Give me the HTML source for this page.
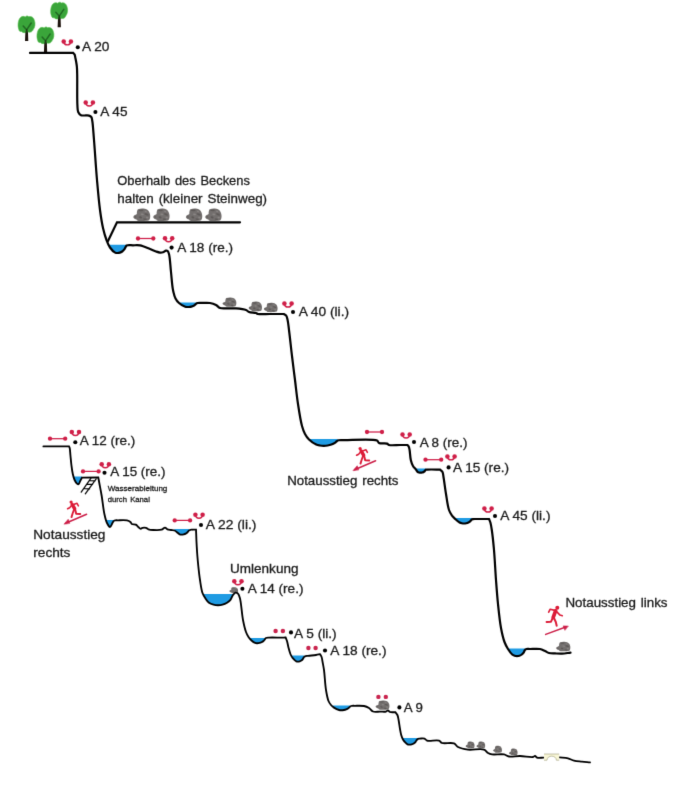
<!DOCTYPE html>
<html><head><meta charset="utf-8"><title>Topo</title>
<style>
html,body{margin:0;padding:0;background:#fff;}
body{width:674px;height:800px;overflow:hidden;}
svg{display:block;}
text{font-family:"Liberation Sans",sans-serif;fill:#1b1b1b;stroke:#1b1b1b;stroke-width:0.3px;}
</style></head><body>
<svg width="674" height="800" viewBox="0 0 674 800">
<defs>
<filter id="sb" filterUnits="userSpaceOnUse" x="0" y="0" width="674" height="800" color-interpolation-filters="sRGB"><feConvolveMatrix order="3" kernelMatrix="0 1 0 1 7 1 0 1 0" divisor="11" edgeMode="duplicate" preserveAlpha="false"/></filter>
<g id="rock"><path d="M4.8,0.9 C6.5,0.1 8.5,0 10.2,0.1 C12.6,0.3 14.6,1.2 15.6,2.6 C16.9,4.4 17.4,6.6 17.2,8.6 C17.1,10.2 16.8,11.4 16,12.1 C14,13 8,13 5.5,12.8 C4.4,12.6 3.6,12 3.4,11.3 C2,11 0.4,10 0.1,8.9 C0.2,7.8 1,7 1.9,6.7 C2.6,6.3 3.2,6 3.7,5.6 C3.6,3.6 4,1.8 4.8,0.9 Z" fill="#736f6e"/><path d="M5,2.2 C6.6,1 9.2,0.8 10.6,1.6 C9.6,3 7.2,3.4 5,2.2 Z M11.2,5.4 C12.8,4.4 15,5 15.8,7 C14.2,7.6 12.2,7 11.2,5.4 Z M5.6,8.6 C6.8,7.6 8.6,8 9,9.8 C7.8,10.6 6.2,10.2 5.6,8.6 Z M1.2,8.4 C2,7.8 3,8 3.2,9 C2.4,9.6 1.4,9.4 1.2,8.4 Z M10,10.6 C11.4,10 13.4,10.4 13.8,11.8 C12.4,12.4 10.6,12 10,10.6 Z" fill="#555150" opacity="0.75"/><path d="M7.4,5.6 C8.6,4.8 10.4,5 10.8,6.4 C9.6,7.4 8,7 7.4,5.6 Z M12.8,8.8 C13.8,8.2 15.4,8.6 15.6,9.8 C14.6,10.6 13.2,10.2 12.8,8.8 Z M11.4,2.6 C12.4,2.2 13.8,2.8 14,3.8 C13,4.2 11.8,3.8 11.4,2.6 Z" fill="#8f8b88" opacity="0.8"/></g>
</defs>
<rect width="674" height="800" fill="#ffffff"/>
<g filter="url(#sb)">
<path d="M109.00,244.80 L109.29,246.39 L109.64,246.95 L110.00,247.50 L110.37,248.01 L110.76,248.52 L111.18,249.04 L111.62,249.55 L112.07,250.05 L112.53,250.53 L112.99,250.98 L113.44,251.40 L113.89,251.78 L114.32,252.12 L114.73,252.40 L115.12,252.62 L115.33,252.72 L115.54,252.80 L115.74,252.87 L115.94,252.91 L116.14,252.95 L116.34,252.98 L116.53,252.99 L116.72,253.00 L116.91,253.00 L117.11,253.00 L117.30,253.00 L117.50,253.00 L117.70,253.00 L117.90,252.99 L118.10,252.98 L118.30,252.96 L118.50,252.93 L118.70,252.90 L118.90,252.87 L119.10,252.83 L119.30,252.78 L119.49,252.73 L119.69,252.68 L119.88,252.62 L120.08,252.55 L120.27,252.48 L120.47,252.41 L120.67,252.32 L120.86,252.24 L121.05,252.14 L121.25,252.05 L121.43,251.94 L121.62,251.84 L121.81,251.72 L121.99,251.60 L122.17,251.48 L122.36,251.34 L122.55,251.19 L122.75,251.03 L122.94,250.87 L123.13,250.70 L123.31,250.52 L123.49,250.34 L123.67,250.16 L123.84,249.97 L124.00,249.79 L124.15,249.60 L124.30,249.42 L124.42,249.25 L124.54,249.08 L124.65,248.91 L124.75,248.73 L124.85,248.55 L124.94,248.37 L125.03,248.19 L125.12,248.02 L125.21,247.84 L125.30,247.66 L125.39,247.49 L125.49,247.32 L125.58,247.16 L125.65,246.99 L125.72,246.83 L125.79,246.66 L125.86,246.49 L125.93,246.32 L126.00,246.16 L126.00,244.80 Z" fill="#1f9be3"/>
<path d="M179.00,302.40 L179.00,303.00 L179.44,303.38 L179.93,303.76 L180.45,304.15 L181.00,304.53 L181.57,304.90 L182.14,305.26 L182.71,305.60 L183.27,305.91 L183.82,306.19 L184.34,306.44 L184.82,306.64 L185.26,306.80 L185.49,306.87 L185.72,306.92 L185.93,306.96 L186.14,306.99 L186.34,307.01 L186.53,307.02 L186.73,307.02 L186.92,307.02 L187.11,307.01 L187.30,307.01 L187.50,307.00 L187.70,307.00 L187.90,307.00 L188.11,306.99 L188.31,306.99 L188.52,306.98 L188.72,306.97 L188.93,306.95 L189.13,306.93 L189.33,306.91 L189.54,306.89 L189.74,306.86 L189.94,306.83 L190.14,306.80 L190.34,306.76 L190.54,306.73 L190.74,306.69 L190.93,306.64 L191.13,306.60 L191.33,306.55 L191.52,306.49 L191.72,306.44 L191.91,306.38 L192.10,306.32 L192.29,306.25 L192.48,306.18 L192.67,306.11 L192.86,306.03 L193.06,305.95 L193.25,305.86 L193.44,305.77 L193.63,305.68 L193.81,305.58 L194.00,305.49 L194.17,305.39 L194.34,305.29 L194.51,305.18 L194.66,305.08 L194.78,304.99 L194.89,304.90 L194.99,304.81 L195.09,304.71 L195.19,304.61 L195.28,304.51 L195.38,304.41 L195.47,304.32 L195.57,304.22 L195.67,304.13 L195.77,304.04 L195.88,303.95 L196.00,303.86 L196.12,303.77 L196.23,303.68 L196.35,303.59 L196.40,302.40 Z" fill="#1f9be3"/>
<path d="M310.00,439.00 L310.06,440.47 L310.65,440.96 L311.26,441.45 L311.90,441.93 L312.55,442.40 L313.20,442.84 L313.84,443.26 L314.47,443.65 L315.08,444.00 L315.67,444.32 L316.21,444.58 L316.55,444.73 L316.88,444.85 L317.20,444.96 L317.51,445.05 L317.82,445.13 L318.12,445.20 L318.42,445.26 L318.72,445.31 L319.02,445.36 L319.32,445.40 L319.63,445.45 L319.94,445.50 L320.26,445.55 L320.58,445.59 L320.90,445.63 L321.22,445.67 L321.54,445.70 L321.86,445.73 L322.19,445.75 L322.51,445.77 L322.83,445.78 L323.16,445.79 L323.48,445.80 L323.80,445.80 L324.12,445.80 L324.44,445.79 L324.77,445.78 L325.09,445.77 L325.41,445.75 L325.74,445.73 L326.06,445.70 L326.38,445.67 L326.70,445.63 L327.02,445.59 L327.34,445.55 L327.66,445.50 L327.98,445.45 L328.29,445.39 L328.61,445.33 L328.92,445.27 L329.24,445.20 L329.55,445.13 L329.86,445.05 L330.17,444.96 L330.48,444.88 L330.79,444.78 L331.09,444.68 L331.39,444.58 L331.69,444.47 L331.99,444.35 L332.30,444.23 L332.60,444.10 L332.91,443.96 L333.21,443.82 L333.50,443.68 L333.79,443.53 L334.07,443.38 L334.34,443.23 L334.60,443.08 L334.84,442.92 L335.03,442.79 L335.21,442.65 L335.38,442.50 L335.54,442.35 L335.70,442.20 L335.85,442.05 L336.00,441.90 L336.15,441.75 L336.30,441.61 L336.45,441.48 L336.61,441.35 L336.77,441.23 L336.91,441.13 L337.05,441.04 L337.19,440.94 L337.32,440.86 L337.46,440.77 L337.60,440.69 L337.60,439.00 Z" fill="#1f9be3"/>
<path d="M416.00,468.40 L416.00,469.60 L416.16,469.81 L416.30,470.03 L416.44,470.25 L416.57,470.47 L416.70,470.69 L416.83,470.90 L416.96,471.10 L417.08,471.29 L417.21,471.47 L417.34,471.64 L417.48,471.79 L417.63,471.92 L417.74,472.00 L417.86,472.08 L417.98,472.15 L418.10,472.20 L418.22,472.26 L418.34,472.30 L418.47,472.34 L418.59,472.38 L418.71,472.41 L418.84,472.45 L418.96,472.48 L419.09,472.51 L419.21,472.54 L419.34,472.57 L419.46,472.59 L419.59,472.62 L419.71,472.64 L419.84,472.65 L419.97,472.67 L420.09,472.68 L420.22,472.69 L420.35,472.69 L420.47,472.70 L420.60,472.70 L420.73,472.70 L420.85,472.69 L420.98,472.69 L421.11,472.68 L421.23,472.67 L421.36,472.65 L421.49,472.64 L421.61,472.62 L421.74,472.59 L421.86,472.57 L421.99,472.54 L422.11,472.51 L422.23,472.48 L422.36,472.44 L422.48,472.40 L422.61,472.36 L422.73,472.31 L422.85,472.27 L422.98,472.22 L423.10,472.16 L423.22,472.11 L423.34,472.05 L423.45,471.98 L423.57,471.92 L423.69,471.85 L423.81,471.77 L423.93,471.69 L424.05,471.61 L424.17,471.52 L424.29,471.43 L424.40,471.34 L424.51,471.25 L424.62,471.16 L424.73,471.06 L424.83,470.97 L424.92,470.87 L425.00,470.78 L425.06,470.69 L425.13,470.59 L425.18,470.49 L425.24,470.39 L425.29,470.28 L425.34,470.18 L425.40,470.09 L425.46,470.00 L425.53,469.92 L425.60,469.85 L425.68,469.79 L425.77,469.74 L425.86,469.71 L425.95,469.68 L426.00,468.40 Z" fill="#1f9be3"/>
<path d="M456.00,518.00 L456.16,519.80 L456.51,520.11 L456.86,520.42 L457.22,520.72 L457.58,521.02 L457.94,521.31 L458.29,521.59 L458.63,521.85 L458.97,522.09 L459.29,522.30 L459.60,522.48 L459.79,522.58 L459.98,522.68 L460.17,522.76 L460.35,522.84 L460.53,522.91 L460.70,522.97 L460.88,523.02 L461.05,523.07 L461.22,523.12 L461.40,523.16 L461.58,523.21 L461.76,523.25 L461.94,523.29 L462.13,523.33 L462.31,523.36 L462.50,523.39 L462.69,523.42 L462.87,523.44 L463.06,523.46 L463.25,523.47 L463.44,523.48 L463.63,523.49 L463.81,523.50 L464.00,523.50 L464.19,523.50 L464.37,523.49 L464.56,523.48 L464.75,523.47 L464.94,523.46 L465.13,523.44 L465.31,523.42 L465.50,523.39 L465.69,523.36 L465.87,523.33 L466.06,523.29 L466.24,523.25 L466.42,523.21 L466.61,523.16 L466.79,523.11 L466.98,523.05 L467.16,522.99 L467.34,522.93 L467.52,522.87 L467.70,522.80 L467.88,522.72 L468.05,522.65 L468.23,522.57 L468.40,522.48 L468.58,522.39 L468.76,522.29 L468.93,522.18 L469.11,522.07 L469.29,521.96 L469.46,521.84 L469.63,521.72 L469.80,521.60 L469.96,521.48 L470.11,521.35 L470.26,521.23 L470.40,521.10 L470.51,520.99 L470.61,520.87 L470.71,520.74 L470.80,520.62 L470.88,520.49 L470.97,520.36 L471.05,520.23 L471.13,520.11 L471.22,519.99 L471.31,519.88 L471.41,519.78 L471.52,519.69 L471.63,519.61 L471.73,519.55 L471.84,519.48 L471.95,519.43 L472.00,518.00 Z" fill="#1f9be3"/>
<path d="M509.00,648.40 L509.00,650.55 L509.35,651.07 L509.71,651.58 L510.07,652.08 L510.44,652.56 L510.80,653.02 L511.16,653.45 L511.52,653.84 L511.86,654.19 L512.20,654.50 L512.41,654.67 L512.61,654.82 L512.81,654.96 L513.01,655.09 L513.21,655.21 L513.40,655.31 L513.60,655.41 L513.80,655.49 L513.99,655.58 L514.19,655.65 L514.40,655.73 L514.60,655.80 L514.80,655.86 L514.99,655.92 L515.19,655.98 L515.39,656.02 L515.59,656.06 L515.79,656.10 L515.99,656.13 L516.20,656.16 L516.40,656.18 L516.60,656.19 L516.80,656.20 L517.00,656.20 L517.20,656.20 L517.40,656.19 L517.60,656.18 L517.80,656.16 L518.01,656.13 L518.21,656.10 L518.41,656.06 L518.61,656.02 L518.81,655.98 L519.01,655.92 L519.20,655.86 L519.40,655.80 L519.61,655.73 L519.81,655.64 L520.02,655.56 L520.23,655.46 L520.43,655.36 L520.64,655.25 L520.84,655.14 L521.04,655.02 L521.24,654.90 L521.43,654.77 L521.62,654.64 L521.80,654.50 L521.99,654.35 L522.17,654.19 L522.36,654.02 L522.54,653.84 L522.72,653.66 L522.89,653.47 L523.06,653.28 L523.22,653.09 L523.38,652.90 L523.53,652.70 L523.67,652.51 L523.80,652.32 L523.90,652.15 L523.99,651.97 L524.07,651.79 L524.14,651.61 L524.21,651.42 L524.27,651.24 L524.34,651.06 L524.40,650.88 L524.48,650.71 L524.56,650.54 L524.65,650.39 L524.76,650.24 L524.87,650.11 L524.99,649.98 L525.00,648.40 Z" fill="#1f9be3"/>
<path d="M73.50,476.60 L73.59,477.20 L73.74,477.70 L73.89,478.18 L74.05,478.66 L74.22,479.12 L74.41,479.57 L74.60,480.00 L74.77,480.35 L74.95,480.71 L75.14,481.06 L75.34,481.41 L75.54,481.75 L75.74,482.08 L75.95,482.39 L76.16,482.69 L76.38,482.96 L76.59,483.20 L76.80,483.42 L77.00,483.60 L77.12,483.70 L77.25,483.80 L77.38,483.89 L77.51,483.97 L77.64,484.05 L77.76,484.11 L77.89,484.17 L78.02,484.21 L78.14,484.23 L78.26,484.24 L78.38,484.23 L78.50,484.20 L78.68,484.09 L78.85,483.92 L79.02,483.68 L79.18,483.40 L79.34,483.08 L79.50,482.73 L79.65,482.36 L79.80,481.98 L79.95,481.61 L80.10,481.25 L80.25,480.91 L80.40,480.60 L80.54,480.34 L80.67,480.08 L80.81,479.83 L80.94,479.58 L81.08,479.33 L81.21,479.08 L81.34,478.84 L81.47,478.59 L81.60,478.34 L81.73,478.10 L81.87,477.85 L82.00,477.60 L82.00,477.60 L82.00,476.60 Z" fill="#1f9be3"/>
<path d="M106.50,520.00 L106.72,522.40 L107.00,523.00 L107.22,523.44 L107.45,523.89 L107.69,524.35 L107.94,524.80 L108.19,525.24 L108.46,525.65 L108.72,526.03 L108.98,526.36 L109.24,526.63 L109.50,526.84 L109.75,526.96 L110.00,527.00 L110.26,526.91 L110.52,526.69 L110.78,526.36 L111.04,525.93 L111.30,525.44 L111.56,524.91 L111.81,524.35 L112.06,523.79 L112.30,523.26 L112.54,522.76 L112.77,522.34 L113.00,522.00 L113.13,521.83 L113.25,521.67 L113.37,521.52 L113.48,521.37 L113.59,521.23 L113.70,521.11 L113.81,520.98 L113.93,520.87 L114.00,520.00 Z" fill="#1f9be3"/>
<path d="M174.40,529.00 L174.50,530.50 L174.92,530.71 L175.35,530.98 L175.80,531.31 L176.26,531.67 L176.71,532.07 L177.17,532.47 L177.62,532.87 L178.07,533.25 L178.50,533.61 L178.91,533.92 L179.30,534.17 L179.66,534.35 L179.85,534.42 L180.04,534.48 L180.21,534.52 L180.39,534.55 L180.55,534.58 L180.72,534.59 L180.88,534.60 L181.04,534.61 L181.20,534.61 L181.37,534.60 L181.53,534.60 L181.70,534.60 L181.87,534.60 L182.04,534.59 L182.21,534.58 L182.38,534.57 L182.55,534.56 L182.73,534.54 L182.90,534.51 L183.07,534.49 L183.24,534.46 L183.41,534.43 L183.57,534.39 L183.74,534.35 L183.91,534.31 L184.08,534.26 L184.24,534.21 L184.41,534.16 L184.58,534.10 L184.74,534.04 L184.91,533.98 L185.07,533.91 L185.23,533.84 L185.39,533.76 L185.55,533.68 L185.71,533.60 L185.87,533.51 L186.04,533.41 L186.20,533.31 L186.36,533.20 L186.52,533.09 L186.68,532.98 L186.84,532.86 L186.99,532.74 L187.14,532.62 L187.28,532.50 L187.41,532.37 L187.54,532.25 L187.64,532.14 L187.73,532.03 L187.82,531.91 L187.90,531.79 L187.97,531.66 L188.05,531.54 L188.12,531.42 L188.19,531.30 L188.27,531.18 L188.36,531.07 L188.46,530.96 L188.56,530.86 L188.69,530.75 L188.82,530.64 L188.96,530.54 L189.00,529.00 Z" fill="#1f9be3"/>
<path d="M203.00,594.00 L203.16,594.60 L203.39,595.08 L203.64,595.54 L203.89,595.99 L204.14,596.42 L204.41,596.85 L204.67,597.26 L204.94,597.67 L205.22,598.09 L205.50,598.50 L205.76,598.89 L206.03,599.28 L206.30,599.68 L206.57,600.06 L206.84,600.45 L207.13,600.82 L207.41,601.18 L207.71,601.53 L208.02,601.86 L208.33,602.18 L208.66,602.47 L209.00,602.74 L209.33,602.97 L209.68,603.19 L210.04,603.38 L210.41,603.57 L210.78,603.73 L211.17,603.89 L211.55,604.03 L211.94,604.17 L212.34,604.29 L212.73,604.41 L213.12,604.52 L213.50,604.62 L213.87,604.71 L214.24,604.80 L214.61,604.88 L214.99,604.95 L215.36,605.01 L215.74,605.06 L216.12,605.10 L216.49,605.14 L216.87,605.16 L217.25,605.18 L217.62,605.20 L218.00,605.20 L218.38,605.20 L218.75,605.18 L219.13,605.16 L219.51,605.14 L219.88,605.10 L220.26,605.06 L220.64,605.01 L221.01,604.95 L221.39,604.88 L221.76,604.80 L222.13,604.71 L222.50,604.62 L222.88,604.51 L223.27,604.39 L223.66,604.26 L224.06,604.12 L224.45,603.97 L224.83,603.81 L225.22,603.65 L225.59,603.48 L225.96,603.30 L226.32,603.12 L226.67,602.93 L227.00,602.74 L227.28,602.57 L227.56,602.41 L227.83,602.24 L228.09,602.07 L228.34,601.89 L228.59,601.71 L228.84,601.53 L229.08,601.33 L229.31,601.12 L229.54,600.89 L229.77,600.66 L230.00,600.40 L230.28,600.04 L230.55,599.63 L230.81,599.18 L231.05,598.71 L231.30,598.21 L231.53,597.71 L231.77,597.21 L232.01,596.71 L232.24,596.24 L232.49,595.79 L232.74,595.37 L233.00,595.00 L233.00,594.00 Z" fill="#1f9be3"/>
<path d="M249.60,638.00 L249.66,638.58 L249.91,638.87 L250.16,639.16 L250.42,639.44 L250.68,639.72 L250.95,639.99 L251.22,640.25 L251.50,640.50 L251.78,640.75 L252.07,641.00 L252.38,641.24 L252.69,641.49 L253.00,641.72 L253.32,641.95 L253.63,642.17 L253.95,642.37 L254.26,642.55 L254.56,642.71 L254.86,642.86 L255.14,642.97 L255.33,643.03 L255.52,643.09 L255.70,643.13 L255.88,643.16 L256.06,643.18 L256.24,643.19 L256.42,643.20 L256.59,643.20 L256.77,643.20 L256.94,643.20 L257.12,643.20 L257.30,643.20 L257.48,643.20 L257.66,643.19 L257.84,643.19 L258.02,643.17 L258.20,643.16 L258.39,643.14 L258.57,643.12 L258.75,643.10 L258.93,643.07 L259.11,643.04 L259.28,643.01 L259.46,642.97 L259.64,642.93 L259.81,642.89 L259.99,642.84 L260.17,642.79 L260.34,642.74 L260.52,642.68 L260.69,642.62 L260.86,642.56 L261.04,642.49 L261.21,642.42 L261.37,642.35 L261.54,642.27 L261.71,642.19 L261.88,642.10 L262.05,642.00 L262.22,641.90 L262.39,641.80 L262.56,641.70 L262.72,641.59 L262.88,641.48 L263.03,641.36 L263.18,641.25 L263.33,641.14 L263.46,641.02 L263.57,640.92 L263.67,640.82 L263.76,640.72 L263.85,640.62 L263.94,640.51 L264.02,640.40 L264.10,640.30 L264.19,640.19 L264.27,640.08 L264.36,639.97 L264.45,639.85 L264.54,639.74 L264.65,639.60 L264.76,639.45 L264.86,639.29 L264.97,639.13 L265.00,638.00 Z" fill="#1f9be3"/>
<path d="M292.00,655.60 L292.14,657.28 L292.32,657.55 L292.50,657.80 L292.62,657.97 L292.74,658.12 L292.86,658.26 L292.98,658.40 L293.10,658.53 L293.22,658.65 L293.34,658.78 L293.47,658.90 L293.59,659.02 L293.72,659.14 L293.86,659.27 L294.00,659.40 L294.17,659.56 L294.35,659.74 L294.54,659.92 L294.73,660.11 L294.93,660.29 L295.13,660.47 L295.33,660.65 L295.53,660.82 L295.73,660.97 L295.93,661.11 L296.13,661.23 L296.32,661.33 L296.46,661.39 L296.60,661.44 L296.74,661.48 L296.88,661.51 L297.02,661.54 L297.16,661.56 L297.30,661.58 L297.44,661.59 L297.58,661.59 L297.72,661.60 L297.86,661.60 L298.00,661.60 L298.14,661.60 L298.28,661.59 L298.42,661.58 L298.56,661.57 L298.71,661.55 L298.85,661.53 L298.99,661.51 L299.13,661.48 L299.27,661.45 L299.41,661.41 L299.54,661.37 L299.68,661.33 L299.82,661.28 L299.96,661.23 L300.10,661.18 L300.24,661.12 L300.37,661.06 L300.51,660.99 L300.65,660.92 L300.78,660.85 L300.91,660.77 L301.04,660.69 L301.17,660.61 L301.30,660.52 L301.44,660.42 L301.57,660.32 L301.71,660.20 L301.84,660.09 L301.97,659.97 L302.10,659.85 L302.23,659.72 L302.35,659.59 L302.47,659.46 L302.59,659.33 L302.70,659.20 L302.80,659.07 L302.89,658.95 L302.96,658.83 L303.03,658.70 L303.10,658.58 L303.16,658.45 L303.22,658.32 L303.28,658.19 L303.34,658.06 L303.41,657.94 L303.48,657.82 L303.56,657.70 L303.64,657.58 L303.73,657.46 L303.83,657.34 L303.92,657.22 L304.00,655.60 Z" fill="#1f9be3"/>
<path d="M333.00,705.60 L333.15,707.01 L333.42,707.21 L333.71,707.41 L334.00,707.60 L334.37,707.83 L334.78,708.07 L335.20,708.31 L335.65,708.55 L336.10,708.78 L336.57,709.01 L337.03,709.22 L337.48,709.42 L337.92,709.60 L338.35,709.76 L338.75,709.89 L339.12,710.00 L339.34,710.06 L339.56,710.10 L339.77,710.13 L339.97,710.16 L340.16,710.18 L340.36,710.19 L340.55,710.20 L340.73,710.20 L340.92,710.20 L341.11,710.20 L341.30,710.20 L341.50,710.20 L341.70,710.20 L341.90,710.19 L342.10,710.19 L342.30,710.18 L342.50,710.17 L342.69,710.15 L342.89,710.13 L343.09,710.11 L343.29,710.09 L343.49,710.06 L343.68,710.03 L343.88,710.00 L344.07,709.96 L344.27,709.93 L344.46,709.89 L344.66,709.84 L344.85,709.80 L345.05,709.75 L345.24,709.69 L345.43,709.64 L345.62,709.58 L345.81,709.52 L345.99,709.45 L346.18,709.38 L346.37,709.31 L346.55,709.23 L346.74,709.15 L346.93,709.06 L347.11,708.97 L347.30,708.88 L347.48,708.78 L347.66,708.69 L347.83,708.59 L347.99,708.49 L348.15,708.38 L348.30,708.28 L348.42,708.19 L348.53,708.10 L348.63,708.01 L348.73,707.92 L348.82,707.82 L348.91,707.72 L349.01,707.63 L349.10,707.53 L349.19,707.43 L349.29,707.34 L349.39,707.24 L349.49,707.15 L349.60,707.05 L349.72,706.94 L349.83,706.84 L349.94,706.73 L350.00,705.60 Z" fill="#1f9be3"/>
<path d="M402.00,738.00 L402.17,737.76 L402.33,738.13 L402.49,738.49 L402.65,738.84 L402.82,739.18 L403.00,739.50 L403.15,739.76 L403.30,740.01 L403.46,740.26 L403.61,740.49 L403.77,740.72 L403.94,740.94 L404.11,741.16 L404.28,741.38 L404.45,741.59 L404.63,741.79 L404.81,742.00 L405.00,742.20 L405.19,742.40 L405.39,742.61 L405.59,742.81 L405.79,743.02 L406.00,743.22 L406.21,743.41 L406.42,743.60 L406.64,743.77 L406.85,743.93 L407.07,744.08 L407.29,744.20 L407.50,744.31 L407.67,744.38 L407.85,744.44 L408.02,744.48 L408.19,744.52 L408.37,744.55 L408.55,744.57 L408.72,744.58 L408.90,744.59 L409.07,744.60 L409.25,744.60 L409.42,744.60 L409.60,744.60 L409.78,744.60 L409.95,744.59 L410.13,744.58 L410.30,744.57 L410.48,744.55 L410.66,744.53 L410.83,744.50 L411.01,744.47 L411.18,744.44 L411.36,744.40 L411.53,744.36 L411.70,744.31 L411.87,744.26 L412.05,744.20 L412.22,744.14 L412.39,744.08 L412.57,744.01 L412.74,743.94 L412.91,743.86 L413.08,743.78 L413.24,743.69 L413.41,743.60 L413.57,743.51 L413.73,743.41 L413.90,743.30 L414.07,743.19 L414.23,743.06 L414.40,742.94 L414.57,742.80 L414.73,742.67 L414.89,742.53 L415.04,742.39 L415.19,742.24 L415.33,742.10 L415.47,741.95 L415.60,741.81 L415.71,741.68 L415.80,741.55 L415.90,741.41 L415.98,741.27 L416.06,741.13 L416.14,740.99 L416.22,740.85 L416.30,740.70 L416.38,740.57 L416.46,740.43 L416.55,740.30 L416.65,740.17 L416.75,740.04 L416.85,739.91 L416.95,739.78 L417.06,739.65 L417.16,739.52 L417.20,738.00 Z" fill="#1f9be3"/>
<use href="#rock" transform="translate(133.20,208.40) scale(0.989,0.985)"/>
<use href="#rock" transform="translate(153.10,208.40) scale(0.956,0.985)"/>
<use href="#rock" transform="translate(185.80,208.40) scale(0.956,0.985)"/>
<use href="#rock" transform="translate(205.10,208.40) scale(0.956,0.985)"/>
<use href="#rock" transform="translate(222.40,297.40) scale(0.811,0.723)"/>
<use href="#rock" transform="translate(248.60,301.40) scale(0.778,0.769)"/>
<use href="#rock" transform="translate(263.80,302.60) scale(0.800,0.738)"/>
<use href="#rock" transform="translate(229.30,587.20) scale(0.511,0.446)"/>
<use href="#rock" transform="translate(556.00,641.60) scale(0.833,0.754)"/>
<use href="#rock" transform="translate(375.50,700.40) scale(0.811,0.723)"/>
<use href="#rock" transform="translate(465.60,741.40) scale(0.522,0.538)"/>
<use href="#rock" transform="translate(476.40,741.40) scale(0.511,0.538)"/>
<use href="#rock" transform="translate(493.00,745.80) scale(0.522,0.538)"/>
<use href="#rock" transform="translate(509.00,748.40) scale(0.500,0.538)"/>
<path d="M25.00,41.00 L25.50,29.40 L22.40,24.90 L23.20,24.40 L26.20,27.60 L30.20,21.90 L31.00,22.60 L27.90,29.60 L28.30,41.00 Z" fill="#1c120c"/>
<path d="M19.0,29.9 C17.400000000000002,26.4 17.8,19.9 20.6,17.4 C22.1,15.999999999999998 24.1,16.099999999999998 25.200000000000003,17.0 C26.1,15.599999999999998 28.0,15.599999999999998 28.8,16.799999999999997 C30.8,15.799999999999999 33.6,17.2 34.4,20.4 C35.6,23.4 35.0,27.4 33.2,29.599999999999998 C32.4,32.0 29.6,33.0 27.200000000000003,31.599999999999998 C25.6,33.2 22.6,32.8 21.6,31.4 C20.200000000000003,31.799999999999997 19.200000000000003,31.0 19.0,29.9 Z" fill="#3aa53a" stroke="#56c04c" stroke-width="0.6"/>
<path d="M26.60,32.40 L26.60,29.80 L23.20,26.00 M26.80,29.60 L31.20,23.00" stroke="#1b5a1d" stroke-width="1.5" fill="none" opacity="0.8" stroke-linecap="round"/>
<path d="M25.30,33.00 L26.20,29.00 L27.20,29.00 L28.00,33.00 Z" fill="#1c2a10" opacity="0.75"/>
<path d="M57.60,27.20 L58.10,15.70 L55.00,11.20 L55.80,10.70 L58.80,13.90 L62.80,8.20 L63.60,8.90 L60.50,15.90 L60.90,27.20 Z" fill="#1c120c"/>
<path d="M51.6,16.2 C50.0,12.7 50.400000000000006,6.199999999999999 53.2,3.6999999999999993 C54.7,2.299999999999999 56.7,2.3999999999999986 57.800000000000004,3.299999999999999 C58.7,1.8999999999999986 60.6,1.8999999999999986 61.400000000000006,3.0999999999999996 C63.400000000000006,2.0999999999999996 66.2,3.499999999999999 67.0,6.699999999999999 C68.2,9.7 67.60000000000001,13.7 65.8,15.899999999999999 C65.0,18.299999999999997 62.2,19.299999999999997 59.800000000000004,17.9 C58.2,19.5 55.2,19.1 54.2,17.7 C52.800000000000004,18.1 51.800000000000004,17.299999999999997 51.6,16.2 Z" fill="#3aa53a" stroke="#56c04c" stroke-width="0.6"/>
<path d="M59.20,18.70 L59.20,16.10 L55.80,12.30 M59.40,15.90 L63.80,9.30" stroke="#1b5a1d" stroke-width="1.5" fill="none" opacity="0.8" stroke-linecap="round"/>
<path d="M57.90,19.30 L58.80,15.30 L59.80,15.30 L60.60,19.30 Z" fill="#1c2a10" opacity="0.75"/>
<path d="M43.90,53.00 L44.40,40.40 L41.30,35.90 L42.10,35.40 L45.10,38.60 L49.10,32.90 L49.90,33.60 L46.80,40.60 L47.20,53.00 Z" fill="#1c120c"/>
<path d="M37.9,40.9 C36.3,37.4 36.7,30.9 39.5,28.4 C41.0,27.0 43.0,27.099999999999998 44.1,28.0 C45.0,26.599999999999998 46.9,26.599999999999998 47.7,27.799999999999997 C49.7,26.799999999999997 52.5,28.2 53.3,31.4 C54.5,34.4 53.9,38.4 52.1,40.6 C51.3,43.0 48.5,44.0 46.1,42.6 C44.5,44.2 41.5,43.8 40.5,42.4 C39.1,42.8 38.1,42.0 37.9,40.9 Z" fill="#3aa53a" stroke="#56c04c" stroke-width="0.6"/>
<path d="M45.50,43.40 L45.50,40.80 L42.10,37.00 M45.70,40.60 L50.10,34.00" stroke="#1b5a1d" stroke-width="1.5" fill="none" opacity="0.8" stroke-linecap="round"/>
<path d="M44.20,44.00 L45.10,40.00 L46.10,40.00 L46.90,44.00 Z" fill="#1c2a10" opacity="0.75"/>
<path d="M108,241 L117,222.3 L240,222.3" fill="none" stroke="#000" stroke-width="2.2" stroke-linejoin="miter" stroke-miterlimit="3" stroke-linecap="round"/>
<path d="M91,478.1 L81.2,492.2 M96.2,478.8 L85.3,493.8 M90,480.7 L95.1,480.8 M87.6,484.4 L92.6,484.4 M84.8,488.7 L89.6,488.9" fill="none" stroke="#000" stroke-width="1.2" stroke-linecap="round"/>
<path d="M30.00,52.90 L73.20,52.90 C73.67,53.47 74.25,53.89 74.60,54.60 C75.05,55.50 75.14,56.82 75.40,58.00 C75.68,59.28 75.96,60.59 76.20,62.00 C76.47,63.57 76.73,65.13 76.90,67.00 C77.11,69.35 77.12,71.48 77.20,75.00 C77.35,81.81 77.01,98.49 77.40,105.00 C77.59,108.15 77.41,110.21 78.20,112.00 C78.82,113.39 79.93,114.65 81.00,115.20 C81.90,115.66 82.87,115.43 84.00,115.50 C85.45,115.59 87.69,115.22 89.00,115.60 C89.96,115.88 90.76,116.26 91.30,117.00 C91.97,117.92 91.99,119.16 92.30,121.00 C92.97,124.97 93.38,132.50 94.00,140.00 C94.89,150.88 95.92,167.63 97.00,180.00 C97.94,190.72 98.84,201.29 100.00,210.00 C100.90,216.78 101.78,222.64 103.00,228.00 C104.01,232.44 105.19,236.51 106.50,240.00 C107.57,242.84 108.49,245.35 110.00,247.50 C111.41,249.51 113.62,251.86 115.12,252.62 C115.98,253.06 116.71,253.00 117.50,253.00 C118.29,253.00 119.11,252.87 119.88,252.62 C120.67,252.37 121.46,251.98 122.17,251.48 C122.94,250.94 123.73,250.15 124.30,249.42 C124.81,248.76 125.09,247.99 125.49,247.32 C125.86,246.69 125.91,245.90 126.60,245.50 C127.79,244.81 130.82,245.32 133.00,245.30 C135.28,245.28 137.50,244.95 140.00,245.40 C143.08,245.96 147.10,247.88 150.00,249.00 C152.27,249.88 154.18,250.87 156.00,251.50 C157.45,252.00 158.75,252.49 160.00,252.60 C161.06,252.69 162.03,252.61 163.00,252.30 C164.04,251.97 165.15,250.77 166.00,250.60 C166.56,250.49 167.07,250.48 167.50,250.80 C168.16,251.28 168.56,252.45 169.00,254.00 C169.99,257.51 170.33,266.00 171.00,272.00 C171.67,278.00 172.02,285.15 173.00,290.00 C173.68,293.39 174.32,296.20 175.50,298.50 C176.44,300.34 177.52,301.68 179.00,303.00 C180.68,304.50 183.60,306.26 185.26,306.80 C186.22,307.11 186.89,307.00 187.70,307.00 C188.51,307.00 189.34,306.94 190.14,306.80 C190.93,306.66 191.73,306.47 192.48,306.18 C193.24,305.89 194.06,305.50 194.66,305.08 C195.15,304.74 195.42,304.29 195.88,303.95 C196.36,303.59 196.76,303.21 197.50,303.00 C198.76,302.65 201.06,302.90 203.00,302.90 C205.19,302.90 207.78,302.62 210.00,303.00 C212.11,303.36 214.26,304.09 216.00,305.00 C217.54,305.81 218.32,307.41 220.00,308.00 C222.12,308.75 225.33,308.23 228.00,308.30 C230.67,308.37 233.19,308.16 236.00,308.40 C239.16,308.67 243.70,309.10 246.00,310.00 C247.37,310.54 247.72,311.51 249.00,312.00 C250.79,312.68 254.40,312.50 256.00,313.00 C256.90,313.28 257.01,313.77 258.00,314.00 C260.28,314.54 265.86,314.00 270.00,314.00 C274.44,314.00 279.20,314.00 283.80,314.00 C284.60,314.53 285.59,314.79 286.20,315.60 C286.97,316.62 287.19,318.22 287.60,320.00 C288.20,322.64 288.47,325.88 289.00,330.00 C289.85,336.63 290.98,347.51 292.00,356.00 C292.98,364.16 294.00,372.00 295.00,380.00 C296.00,388.00 296.80,396.19 298.00,404.00 C299.15,411.51 300.49,420.53 302.00,426.00 C302.93,429.38 303.74,431.66 305.00,434.00 C306.13,436.09 307.30,437.83 309.00,439.50 C310.93,441.40 314.12,443.63 316.21,444.58 C317.59,445.21 318.68,445.30 319.94,445.50 C321.21,445.70 322.51,445.80 323.80,445.80 C325.09,445.80 326.39,445.70 327.66,445.50 C328.92,445.30 330.19,445.01 331.39,444.58 C332.59,444.15 333.89,443.55 334.84,442.92 C335.62,442.41 336.11,441.68 336.77,441.23 C337.36,440.83 337.77,440.50 338.60,440.30 C340.06,439.94 342.05,440.20 345.00,440.20 C351.59,440.19 372.83,438.62 377.00,440.60 C378.30,441.22 377.95,442.46 379.00,443.00 C380.68,443.87 385.27,442.98 387.00,443.60 C387.95,443.94 387.99,444.68 389.00,445.00 C391.14,445.67 396.70,445.00 400.00,445.00 C402.71,445.00 404.93,445.00 407.40,445.00 C407.87,445.60 408.44,446.07 408.80,446.80 C409.23,447.68 409.35,448.63 409.60,450.00 C410.04,452.40 410.11,457.12 410.80,460.00 C411.35,462.29 412.03,464.32 413.00,466.00 C413.83,467.44 415.17,468.52 416.00,469.60 C416.65,470.44 417.02,471.44 417.63,471.92 C418.08,472.28 418.59,472.38 419.09,472.51 C419.58,472.64 420.10,472.70 420.60,472.70 C421.10,472.70 421.62,472.64 422.11,472.51 C422.61,472.38 423.11,472.18 423.57,471.92 C424.05,471.64 424.56,471.25 424.92,470.87 C425.24,470.53 425.33,470.00 425.68,469.79 C426.03,469.58 426.44,469.65 427.00,469.60 C427.97,469.52 429.40,469.51 431.00,469.50 C433.40,469.48 437.00,469.57 440.00,469.60 C440.83,470.40 441.92,470.94 442.50,472.00 C443.20,473.29 443.12,474.83 443.50,477.00 C444.19,480.98 445.07,488.43 446.00,494.00 C446.91,499.42 447.63,506.11 449.00,510.00 C449.86,512.43 450.83,514.01 452.00,515.60 C453.04,517.02 454.25,518.06 455.50,519.20 C456.78,520.36 458.40,521.81 459.60,522.48 C460.39,522.92 461.02,523.08 461.76,523.25 C462.49,523.42 463.25,523.50 464.00,523.50 C464.75,523.50 465.51,523.42 466.24,523.25 C466.98,523.08 467.72,522.83 468.40,522.48 C469.10,522.12 469.86,521.61 470.40,521.10 C470.87,520.66 471.07,520.03 471.52,519.69 C471.94,519.37 472.37,519.23 473.00,519.10 C474.00,518.90 475.31,519.02 477.00,519.00 C479.93,518.96 485.00,519.00 489.00,519.00 C489.47,520.17 489.99,521.09 490.40,522.50 C490.98,524.51 491.34,526.89 491.80,530.00 C492.55,535.05 493.35,542.65 494.00,550.00 C494.79,558.98 495.29,570.56 496.00,580.00 C496.63,588.45 497.17,596.01 498.00,604.00 C498.83,612.01 499.71,621.10 501.00,628.00 C501.99,633.33 503.09,638.20 504.50,642.00 C505.54,644.80 506.67,646.86 508.00,649.00 C509.25,651.01 510.88,653.37 512.20,654.50 C513.03,655.21 513.78,655.52 514.60,655.80 C515.38,656.07 516.20,656.20 517.00,656.20 C517.80,656.20 518.62,656.07 519.40,655.80 C520.22,655.52 521.08,655.06 521.80,654.50 C522.55,653.91 523.29,653.08 523.80,652.32 C524.24,651.65 524.30,650.80 524.76,650.24 C525.21,649.70 525.77,649.23 526.50,649.00 C527.43,648.70 528.53,649.00 530.00,649.00 C532.48,649.00 537.28,648.48 540.00,649.00 C542.00,649.38 543.44,650.30 545.00,651.00 C546.42,651.64 547.49,652.59 549.00,653.00 C550.76,653.48 552.92,653.30 555.00,653.40 C557.24,653.51 559.56,653.71 562.00,653.60 C564.70,653.48 567.67,652.93 570.50,652.60 " fill="none" stroke="#000" stroke-width="2.2" stroke-linejoin="miter" stroke-miterlimit="3" stroke-linecap="round"/>
<path d="M43.40,446.40 L69.00,446.40 C69.23,446.93 69.51,447.26 69.70,448.00 C70.09,449.49 70.15,452.46 70.40,455.00 C70.70,458.04 70.99,461.76 71.40,465.00 C71.79,468.08 72.19,471.32 72.80,474.00 C73.30,476.22 73.80,478.30 74.60,480.00 C75.26,481.41 76.19,482.94 77.00,483.60 C77.50,484.00 78.04,484.37 78.50,484.20 C79.23,483.93 79.79,481.74 80.40,480.60 C80.96,479.55 81.47,478.60 82.00,477.60 L98.30,477.50 C98.63,479.33 98.89,480.78 99.30,483.00 C99.93,486.42 100.92,491.31 101.70,496.00 C102.62,501.51 103.32,509.06 104.40,514.00 C105.17,517.54 105.84,520.68 107.00,523.00 C107.85,524.70 109.04,527.05 110.00,527.00 C111.04,526.95 112.11,523.14 113.00,522.00 C113.54,521.31 113.82,520.80 114.50,520.50 C115.37,520.11 116.56,520.33 118.00,520.30 C120.30,520.25 124.76,519.89 127.00,520.40 C128.45,520.73 129.57,521.30 130.40,522.00 C131.07,522.56 131.08,523.56 131.80,524.00 C132.72,524.57 134.69,524.06 135.80,524.60 C136.83,525.10 137.45,526.28 138.30,527.00 C139.09,527.67 139.94,528.75 140.70,528.80 C141.33,528.84 141.77,527.99 142.50,527.80 C143.45,527.55 144.98,527.51 146.00,527.80 C146.92,528.06 147.42,528.94 148.40,529.30 C149.69,529.77 151.38,529.90 153.20,530.00 C155.59,530.13 159.38,530.33 161.50,529.70 C162.99,529.26 163.95,527.56 165.00,527.60 C165.89,527.63 166.47,528.90 167.40,529.30 C168.44,529.74 169.81,529.80 171.00,530.00 C172.17,530.20 173.29,530.00 174.50,530.50 C176.14,531.18 178.27,533.79 179.66,534.35 C180.45,534.67 181.02,534.60 181.70,534.60 C182.38,534.60 183.08,534.51 183.74,534.35 C184.41,534.18 185.09,533.94 185.71,533.60 C186.36,533.25 187.05,532.74 187.54,532.25 C187.97,531.82 188.12,531.25 188.56,530.86 C189.05,530.42 189.74,529.99 190.40,529.80 C191.06,529.61 191.71,529.72 192.50,529.70 C193.52,529.68 194.83,529.70 196.00,529.70 C196.07,531.13 196.13,532.35 196.20,534.00 C196.29,536.26 196.35,539.01 196.50,542.00 C196.69,545.81 196.98,550.85 197.30,555.00 C197.59,558.82 197.89,562.12 198.30,566.00 C198.77,570.39 199.28,575.43 200.00,580.00 C200.69,584.43 201.30,589.66 202.50,593.00 C203.33,595.30 204.37,596.83 205.50,598.50 C206.56,600.06 207.61,601.71 209.00,602.74 C210.31,603.71 211.97,604.21 213.50,604.62 C214.97,605.02 216.50,605.20 218.00,605.20 C219.50,605.20 221.03,605.02 222.50,604.62 C224.03,604.21 225.70,603.50 227.00,602.74 C228.15,602.07 229.09,601.46 230.00,600.40 C231.15,599.05 231.94,596.38 233.00,595.00 C233.80,593.97 234.61,592.77 235.50,592.60 C236.29,592.45 237.32,592.92 238.00,593.60 C238.96,594.55 239.39,596.24 240.00,598.50 C241.23,603.08 241.81,613.90 243.00,620.00 C243.89,624.61 244.86,628.91 246.00,632.00 C246.77,634.08 247.53,635.53 248.50,637.00 C249.38,638.33 250.38,639.50 251.50,640.50 C252.60,641.48 254.04,642.57 255.14,642.97 C255.91,643.25 256.58,643.20 257.30,643.20 C258.02,643.20 258.76,643.12 259.46,642.97 C260.17,642.82 260.88,642.59 261.54,642.27 C262.21,641.94 262.94,641.48 263.46,641.02 C263.91,640.63 264.15,640.20 264.54,639.74 C264.99,639.20 265.34,638.36 266.00,638.00 C266.77,637.58 267.61,637.69 269.00,637.60 C272.09,637.40 281.54,637.75 284.00,637.60 C284.81,637.55 285.07,637.47 285.60,637.40 C286.07,638.60 286.57,639.58 287.00,641.00 C287.59,642.93 288.01,645.77 288.60,648.00 C289.15,650.09 289.67,652.26 290.40,654.00 C291.01,655.45 291.80,656.84 292.50,657.80 C293.00,658.49 293.43,658.86 294.00,659.40 C294.67,660.03 295.56,660.99 296.32,661.33 C296.89,661.59 297.44,661.60 298.00,661.60 C298.56,661.60 299.14,661.50 299.68,661.33 C300.24,661.15 300.80,660.88 301.30,660.52 C301.84,660.14 302.40,659.59 302.80,659.07 C303.16,658.60 303.28,658.03 303.64,657.58 C304.01,657.11 304.40,656.60 305.00,656.30 C305.76,655.92 306.76,655.97 308.00,655.80 C310.02,655.53 313.80,655.33 316.00,655.00 C317.57,654.77 318.67,654.47 320.00,654.20 C320.53,655.13 321.19,655.89 321.60,657.00 C322.12,658.39 322.25,660.14 322.60,662.00 C323.04,664.35 323.55,666.72 324.00,670.00 C324.71,675.16 325.08,684.35 326.00,690.00 C326.69,694.24 327.39,698.31 328.50,701.00 C329.22,702.74 330.03,703.87 331.00,705.00 C331.89,706.04 332.80,706.82 334.00,707.60 C335.43,708.53 337.71,709.62 339.12,710.00 C340.04,710.25 340.71,710.20 341.50,710.20 C342.29,710.20 343.10,710.14 343.88,710.00 C344.66,709.86 345.44,709.67 346.18,709.38 C346.92,709.09 347.72,708.69 348.30,708.28 C348.78,707.94 349.06,707.52 349.49,707.15 C349.95,706.76 350.33,706.25 351.00,706.00 C351.98,705.64 353.40,705.82 355.00,705.80 C357.40,705.77 361.48,705.48 364.00,706.00 C365.95,706.40 367.50,707.08 369.00,708.00 C370.49,708.92 371.34,710.86 373.00,711.50 C374.90,712.23 377.76,711.58 380.00,711.60 C382.08,711.61 384.57,712.00 386.00,711.60 C386.89,711.35 387.35,710.36 388.00,710.40 C388.68,710.45 389.10,711.67 390.00,712.00 C391.31,712.49 393.60,712.13 395.40,712.20 C396.07,713.13 396.89,713.87 397.40,715.00 C398.03,716.38 398.22,718.08 398.60,720.00 C399.10,722.55 399.52,726.31 400.00,729.00 C400.39,731.21 400.65,733.17 401.20,735.00 C401.69,736.63 402.29,738.23 403.00,739.50 C403.59,740.56 404.24,741.39 405.00,742.20 C405.75,743.00 406.65,743.93 407.50,744.31 C408.19,744.62 408.90,744.60 409.60,744.60 C410.30,744.60 411.02,744.50 411.70,744.31 C412.40,744.11 413.09,743.81 413.73,743.41 C414.40,742.99 415.10,742.39 415.60,741.81 C416.05,741.30 416.25,740.67 416.65,740.17 C417.05,739.67 417.45,739.06 418.00,738.80 C418.56,738.53 419.20,738.64 420.00,738.60 C421.20,738.54 423.28,738.17 424.50,738.60 C425.53,738.96 425.75,740.16 427.00,740.60 C429.43,741.45 436.43,739.70 439.00,740.60 C440.46,741.11 440.54,742.46 442.00,743.00 C444.57,743.95 451.20,742.27 454.00,743.40 C455.87,744.15 456.22,746.04 458.00,747.00 C460.47,748.33 464.24,749.12 468.00,749.60 C472.68,750.20 480.58,748.34 484.00,749.60 C485.96,750.32 486.59,752.19 488.00,753.00 C489.27,753.73 490.28,754.11 492.00,754.40 C494.90,754.89 500.91,753.78 504.00,754.40 C506.08,754.82 506.96,756.14 509.00,756.50 C511.91,757.02 516.18,755.94 520.00,756.00 C524.15,756.07 530.59,757.47 533.00,757.00 C534.00,756.80 534.35,755.93 535.00,756.00 C535.69,756.07 536.07,757.27 537.00,757.60 C538.49,758.12 541.33,757.60 543.50,757.60 " fill="none" stroke="#000" stroke-width="1.85" stroke-linejoin="miter" stroke-miterlimit="3" stroke-linecap="round"/>
<path d="M559.50,757.40 C562.33,757.73 565.44,757.79 568.00,758.40 C570.21,758.93 571.82,760.07 574.00,760.60 C576.44,761.19 579.33,761.30 582.00,761.60 C584.66,761.90 587.33,762.13 590.00,762.40 " fill="none" stroke="#000" stroke-width="1.85" stroke-linejoin="miter" stroke-miterlimit="3" stroke-linecap="round"/>
<path d="M544,754 L559.2,754 L559.2,760.2 L556.4,760.2 C556.2,754.8 547.2,754.8 547,760.2 L544,760.2 Z" fill="#f8f6d6"/><path d="M544,754 L559.2,754 M559.2,760.2 L556.4,760.2 C556.2,754.8 547.2,754.8 547,760.2 L544,760.2" fill="none" stroke="#9c9a7a" stroke-width="0.6"/>
<path d="M63.70,41.40 C63.90,46.00 70.70,46.00 70.90,41.40" fill="none" stroke="#cf1f48" stroke-width="1.45"/>
<circle cx="63.70" cy="41.40" r="2.25" fill="#cf1f48"/><circle cx="70.90" cy="41.40" r="2.25" fill="#cf1f48"/>
<path d="M85.70,102.50 C85.90,107.10 92.70,107.10 92.90,102.50" fill="none" stroke="#cf1f48" stroke-width="1.45"/>
<circle cx="85.70" cy="102.50" r="2.25" fill="#cf1f48"/><circle cx="92.90" cy="102.50" r="2.25" fill="#cf1f48"/>
<path d="M165.00,238.30 C165.20,242.90 172.00,242.90 172.20,238.30" fill="none" stroke="#cf1f48" stroke-width="1.45"/>
<circle cx="165.00" cy="238.30" r="2.25" fill="#cf1f48"/><circle cx="172.20" cy="238.30" r="2.25" fill="#cf1f48"/>
<path d="M284.40,303.60 C284.60,308.20 291.40,308.20 291.60,303.60" fill="none" stroke="#cf1f48" stroke-width="1.45"/>
<circle cx="284.40" cy="303.60" r="2.25" fill="#cf1f48"/><circle cx="291.60" cy="303.60" r="2.25" fill="#cf1f48"/>
<path d="M402.50,434.50 C402.70,439.10 409.50,439.10 409.70,434.50" fill="none" stroke="#cf1f48" stroke-width="1.45"/>
<circle cx="402.50" cy="434.50" r="2.25" fill="#cf1f48"/><circle cx="409.70" cy="434.50" r="2.25" fill="#cf1f48"/>
<path d="M447.40,456.40 C447.60,461.00 454.40,461.00 454.60,456.40" fill="none" stroke="#cf1f48" stroke-width="1.45"/>
<circle cx="447.40" cy="456.40" r="2.25" fill="#cf1f48"/><circle cx="454.60" cy="456.40" r="2.25" fill="#cf1f48"/>
<path d="M484.40,508.60 C484.60,513.20 491.40,513.20 491.60,508.60" fill="none" stroke="#cf1f48" stroke-width="1.45"/>
<circle cx="484.40" cy="508.60" r="2.25" fill="#cf1f48"/><circle cx="491.60" cy="508.60" r="2.25" fill="#cf1f48"/>
<path d="M71.80,432.00 C72.00,436.60 78.80,436.60 79.00,432.00" fill="none" stroke="#cf1f48" stroke-width="1.45"/>
<circle cx="71.80" cy="432.00" r="2.25" fill="#cf1f48"/><circle cx="79.00" cy="432.00" r="2.25" fill="#cf1f48"/>
<path d="M101.70,464.20 C101.90,468.80 108.70,468.80 108.90,464.20" fill="none" stroke="#cf1f48" stroke-width="1.45"/>
<circle cx="101.70" cy="464.20" r="2.25" fill="#cf1f48"/><circle cx="108.90" cy="464.20" r="2.25" fill="#cf1f48"/>
<path d="M195.40,514.80 C195.60,519.40 202.40,519.40 202.60,514.80" fill="none" stroke="#cf1f48" stroke-width="1.45"/>
<circle cx="195.40" cy="514.80" r="2.25" fill="#cf1f48"/><circle cx="202.60" cy="514.80" r="2.25" fill="#cf1f48"/>
<path d="M234.30,581.20 C234.50,585.80 241.30,585.80 241.50,581.20" fill="none" stroke="#cf1f48" stroke-width="1.45"/>
<circle cx="234.30" cy="581.20" r="2.25" fill="#cf1f48"/><circle cx="241.50" cy="581.20" r="2.25" fill="#cf1f48"/>
<path d="M138,238.5 L153.3,238.5" stroke="#cf1f48" stroke-width="1.25" fill="none"/>
<circle cx="138" cy="238.5" r="2.15" fill="#cf1f48"/><circle cx="153.3" cy="238.5" r="2.15" fill="#cf1f48"/>
<path d="M367,432 L382,432" stroke="#cf1f48" stroke-width="1.25" fill="none"/>
<circle cx="367" cy="432" r="2.15" fill="#cf1f48"/><circle cx="382" cy="432" r="2.15" fill="#cf1f48"/>
<path d="M425.5,459.7 L441.2,459.7" stroke="#cf1f48" stroke-width="1.25" fill="none"/>
<circle cx="425.5" cy="459.7" r="2.15" fill="#cf1f48"/><circle cx="441.2" cy="459.7" r="2.15" fill="#cf1f48"/>
<path d="M50,438.7 L65.2,438.7" stroke="#cf1f48" stroke-width="1.25" fill="none"/>
<circle cx="50" cy="438.7" r="2.15" fill="#cf1f48"/><circle cx="65.2" cy="438.7" r="2.15" fill="#cf1f48"/>
<path d="M83,471.4 L98.6,471.4" stroke="#cf1f48" stroke-width="1.25" fill="none"/>
<circle cx="83" cy="471.4" r="2.15" fill="#cf1f48"/><circle cx="98.6" cy="471.4" r="2.15" fill="#cf1f48"/>
<path d="M174.7,520.4 L190.1,520.4" stroke="#cf1f48" stroke-width="1.25" fill="none"/>
<circle cx="174.7" cy="520.4" r="2.15" fill="#cf1f48"/><circle cx="190.1" cy="520.4" r="2.15" fill="#cf1f48"/>
<circle cx="275.6" cy="631" r="2.2" fill="#c9244e"/>
<circle cx="282.9" cy="631" r="2.2" fill="#c9244e"/>
<circle cx="308.4" cy="648" r="2.2" fill="#c9244e"/>
<circle cx="315.6" cy="648" r="2.2" fill="#c9244e"/>
<circle cx="378.4" cy="696.9" r="2.2" fill="#c9244e"/>
<circle cx="385.8" cy="696.9" r="2.2" fill="#c9244e"/>
<g transform="translate(345,440)" stroke="#dc1c38" fill="none" stroke-linecap="round" stroke-linejoin="round"><circle cx="15.1" cy="8.6" r="1.6" fill="#dc1c38" stroke="none"/><path d="M16.2,11 L18.6,15.2" stroke-width="3.5"/><path d="M16,11.4 L13.6,14.2 L11.6,15.3" stroke-width="1.55"/><path d="M17.6,11 L21,9.8 L22.4,12.4" stroke-width="1.55"/><path d="M18.2,15.6 L16.6,20 L15.5,23.6" stroke-width="1.9"/><path d="M19,15.4 L20.2,20.2 L24.2,20.5" stroke-width="2.0"/><path d="M30.6,20.8 L9.6,29.8" stroke-width="1.5" stroke="#cc1f48"/><path d="M8.2,30.4 L12.2,25.8 L13.6,29.6 Z" fill="#cc1f48" stroke="#cc1f48" stroke-width="0.6"/></g><g transform="translate(56,493.5)" stroke="#dc1c38" fill="none" stroke-linecap="round" stroke-linejoin="round"><circle cx="15.1" cy="8.6" r="1.6" fill="#dc1c38" stroke="none"/><path d="M16.2,11 L18.6,15.2" stroke-width="3.5"/><path d="M16,11.4 L13.6,14.2 L11.6,15.3" stroke-width="1.55"/><path d="M17.6,11 L21,9.8 L22.4,12.4" stroke-width="1.55"/><path d="M18.2,15.6 L16.6,20 L15.5,23.6" stroke-width="1.9"/><path d="M19,15.4 L20.2,20.2 L24.2,20.5" stroke-width="2.0"/><path d="M30.6,20.8 L9.6,29.8" stroke-width="1.5" stroke="#cc1f48"/><path d="M8.2,30.4 L12.2,25.8 L13.6,29.6 Z" fill="#cc1f48" stroke="#cc1f48" stroke-width="0.6"/></g><g transform="translate(538,600)" stroke="#dc1c38" fill="none" stroke-linecap="round" stroke-linejoin="round"><circle cx="19.3" cy="7.7" r="2" fill="#dc1c38" stroke="none"/><path d="M17.6,10.8 L15.2,17.4" stroke-width="3.7"/><path d="M17,10.4 L12.2,9.2 L10.7,12.2" stroke-width="1.6"/><path d="M18.4,11.4 L22,15.1 L24.3,15.7" stroke-width="1.55"/><path d="M14.8,17.8 L13,21.7 L8.6,22" stroke-width="2.0"/><path d="M15.8,17.8 L17.8,22 L18.7,25.8" stroke-width="2.0"/><path d="M7.7,34.4 L28.4,26.8" stroke-width="1.5" stroke="#cc1f48"/><path d="M30,26.1 L25.2,25.9 L26.8,30 Z" fill="#cc1f48" stroke="#cc1f48" stroke-width="0.6"/></g>
<circle cx="77.8" cy="47.3" r="2.05" fill="#000"/>
<text x="82.05" y="51.3" font-size="12.8" textLength="27.4" lengthAdjust="spacingAndGlyphs">A 20</text>
<circle cx="95.4" cy="112" r="2.05" fill="#000"/>
<text x="100.25" y="115.9" font-size="12.8" textLength="27.2" lengthAdjust="spacingAndGlyphs">A 45</text>
<circle cx="171.6" cy="247.6" r="2.05" fill="#000"/>
<text x="177.25" y="251.9" font-size="12.8" textLength="55.8" lengthAdjust="spacingAndGlyphs">A 18 (re.)</text>
<circle cx="293" cy="312" r="2.05" fill="#000"/>
<text x="298.65" y="316.3" font-size="12.8" textLength="50.4" lengthAdjust="spacingAndGlyphs">A 40 (li.)</text>
<circle cx="414" cy="442" r="2.05" fill="#000"/>
<text x="419.65" y="446.7" font-size="12.8" textLength="47.8" lengthAdjust="spacingAndGlyphs">A 8 (re.)</text>
<circle cx="448.6" cy="467.4" r="2.05" fill="#000"/>
<text x="453.05" y="472.3" font-size="12.8" textLength="56.0" lengthAdjust="spacingAndGlyphs">A 15 (re.)</text>
<circle cx="495" cy="516" r="2.05" fill="#000"/>
<text x="500.25" y="520.3" font-size="12.8" textLength="50.2" lengthAdjust="spacingAndGlyphs">A 45 (li.)</text>
<circle cx="75.3" cy="442.3" r="2.05" fill="#000"/>
<text x="79.85" y="444.6" font-size="12.8" textLength="55.4" lengthAdjust="spacingAndGlyphs">A 12 (re.)</text>
<circle cx="104.5" cy="472.8" r="2.05" fill="#000"/>
<text x="110.25" y="476.1" font-size="12.8" textLength="55.2" lengthAdjust="spacingAndGlyphs">A 15 (re.)</text>
<circle cx="201" cy="525" r="2.05" fill="#000"/>
<text x="205.65" y="529.3" font-size="12.8" textLength="50.8" lengthAdjust="spacingAndGlyphs">A 22 (li.)</text>
<circle cx="242.4" cy="588.8" r="2.05" fill="#000"/>
<text x="247.65" y="592.7" font-size="12.8" textLength="55.8" lengthAdjust="spacingAndGlyphs">A 14 (re.)</text>
<circle cx="291" cy="632.4" r="2.05" fill="#000"/>
<text x="294.05" y="637.6" font-size="12.8" textLength="42.6" lengthAdjust="spacingAndGlyphs">A 5 (li.)</text>
<circle cx="325" cy="650.5" r="2.05" fill="#000"/>
<text x="330.25" y="655.3" font-size="12.8" textLength="56.2" lengthAdjust="spacingAndGlyphs">A 18 (re.)</text>
<circle cx="399.4" cy="707.4" r="2.05" fill="#000"/>
<text x="403.65" y="711.9" font-size="12.8" textLength="19.2" lengthAdjust="spacingAndGlyphs">A 9</text>
<text x="117.25" y="185.3" font-size="12.8" word-spacing="1.1" textLength="132.6" lengthAdjust="spacingAndGlyphs">Oberhalb des Beckens</text>
<text x="117.25" y="202.7" font-size="12.8" word-spacing="1.1" textLength="149.8" lengthAdjust="spacingAndGlyphs">halten (kleiner Steinweg)</text>
<text x="287.15" y="485.3" font-size="12.8" word-spacing="1.1" textLength="111.3" lengthAdjust="spacingAndGlyphs">Notausstieg rechts</text>
<text x="565.45" y="606.5" font-size="12.8" word-spacing="1.1" textLength="102.1" lengthAdjust="spacingAndGlyphs">Notausstieg links</text>
<text x="33.25" y="539.3" font-size="12.8" word-spacing="1.1" textLength="72.2" lengthAdjust="spacingAndGlyphs">Notausstieg</text>
<text x="33.25" y="557.0" font-size="12.8" word-spacing="1.1" textLength="37.2" lengthAdjust="spacingAndGlyphs">rechts</text>
<text x="230.05" y="572.7" font-size="12.8" word-spacing="1.1" textLength="68.4" lengthAdjust="spacingAndGlyphs">Umlenkung</text>
<text x="107.75" y="490.6" font-size="8.0" stroke-width="0.12" word-spacing="1.1" textLength="59.6" lengthAdjust="spacingAndGlyphs">Wasserableitung</text>
<text x="107.75" y="501.9" font-size="8.0" stroke-width="0.12" word-spacing="1.1" textLength="42.1" lengthAdjust="spacingAndGlyphs">durch Kanal</text>
</g>
</svg>
</body></html>
